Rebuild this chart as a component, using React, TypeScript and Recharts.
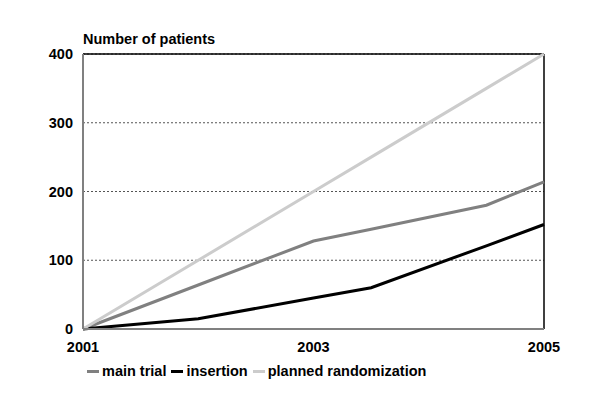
import React from "react";
import {
  LineChart,
  Line,
  XAxis,
  YAxis,
  CartesianGrid,
  Legend,
  ReferenceLine,
} from "recharts";

// time points (years) and cumulative patient counts
const years = [2001, 2002, 2003, 2003.5, 2004.5, 2005];
const mainTrial = [0, 64, 128, 145, 180, 214];
const insertion = [0, 15, 45, 60, 121, 152];
const planned = [0, 100, 200, 250, 350, 400];

const xTicks = [2001, 2003, 2005];
const yTicks = [0, 100, 200, 300, 400];

const seriesInfo = [
  { key: "main", name: "main trial", color: "#808080" },
  { key: "insertion", name: "insertion", color: "#000000" },
  { key: "planned", name: "planned randomization", color: "#cccccc" },
];

const data = years.map((y, i) => ({
  year: y,
  main: mainTrial[i],
  insertion: insertion[i],
  planned: planned[i],
}));

const font = "'Liberation Sans', Arial, sans-serif";
const fs = 14.5;

function LegendContent() {
  return (
    <div
      style={{
        display: "flex",
        justifyContent: "flex-start",
        paddingLeft: 64,
        paddingTop: 4,
        fontFamily: font,
        fontWeight: "bold",
        fontSize: fs,
        color: "#000",
      }}
    >
      {seriesInfo.map((s) => (
        <div key={s.key} style={{ display: "flex", alignItems: "center", marginRight: 5 }}>
          <span
            style={{
              display: "inline-block",
              width: 12,
              height: 3,
              background: s.color,
              marginRight: 3,
            }}
          />
          <span>{s.name}</span>
        </div>
      ))}
    </div>
  );
}

export default function App() {
  return (
    <div style={{ position: "absolute", left: 0, top: 0, width: 600, height: 400, background: "#fff" }}>
      <div
        style={{
          position: "absolute",
          left: 83,
          top: 31,
          fontFamily: font,
          fontWeight: "bold",
          fontSize: fs,
          color: "#000",
        }}
      >
        Number of patients
      </div>
      <LineChart
        width={600}
        height={400}
        data={data}
        margin={{ top: 54, right: 56, left: 23, bottom: 11 }}
      >
        <CartesianGrid vertical={false} stroke="#555" strokeDasharray="2 2" />
        <XAxis
          dataKey="year"
          type="number"
          domain={[2001, 2005]}
          ticks={xTicks}
          tickLine={false}
          axisLine={{ stroke: "#808080", strokeWidth: 2 }}
          tickMargin={7}
          height={30}
          tick={{ fill: "#000", fontFamily: font, fontWeight: "bold", fontSize: fs }}
        />
        <YAxis
          domain={[0, 400]}
          ticks={yTicks}
          tickLine={false}
          axisLine={{ stroke: "#808080", strokeWidth: 2 }}
          tickMargin={4}
          width={60}
          tick={{ fill: "#000", fontFamily: font, fontWeight: "bold", fontSize: fs }}
        />
        <ReferenceLine y={400} stroke="#000" strokeWidth={1.5} />
        <ReferenceLine x={2005} stroke="#000" strokeWidth={1.5} />
        <Legend verticalAlign="bottom" height={30} content={<LegendContent />} />
        {seriesInfo.map((s) => (
          <Line
            key={s.key}
            type="linear"
            dataKey={s.key}
            name={s.name}
            stroke={s.color}
            strokeWidth={3}
            dot={false}
            isAnimationActive={false}
          />
        ))}
      </LineChart>
    </div>
  );
}
